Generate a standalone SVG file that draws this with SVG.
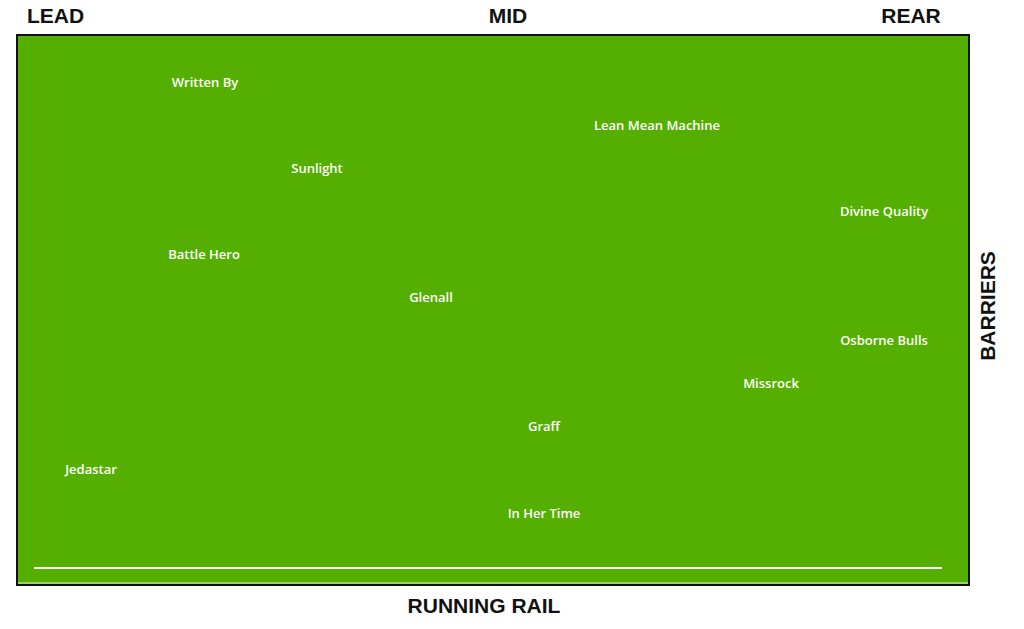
<svg xmlns="http://www.w3.org/2000/svg" width="1024" height="629" viewBox="0 0 1024 629">
<style>
.hdr{font-family:"Liberation Sans",Arial,sans-serif;font-weight:bold;font-size:21px;fill:#111}
.lbl{font-family:"Open Sans","Liberation Sans",sans-serif;font-weight:600;font-size:13px;fill:#fff;text-anchor:middle}
</style>
<rect width="1024" height="629" fill="#fff"/>
<g id="track">
<rect x="17" y="35" width="952" height="550" fill="#55af00" stroke="#111" stroke-width="2"/>
<line x1="34" y1="568" x2="942" y2="568" stroke="#fff" stroke-width="2"/>
<line x1="18" y1="583" x2="968" y2="583" stroke="#e8f5d0" stroke-width="1"/>
</g>
<g id="headers">
<text class="hdr" x="27" y="23">LEAD</text>
<text class="hdr" x="508" y="23" text-anchor="middle">MID</text>
<text class="hdr" x="911" y="23" text-anchor="middle">REAR</text>
<text class="hdr" x="484" y="613" text-anchor="middle" font-size="22.5">RUNNING RAIL</text>
<text class="hdr" x="0" y="0" text-anchor="middle" font-size="20" transform="translate(995 306) rotate(-90)">BARRIERS</text>
</g>
<g id="n-written-by"><text class="lbl" x="205" y="87">Written By</text></g>
<g id="n-lean-mean-machine"><text class="lbl" x="657" y="130">Lean Mean Machine</text></g>
<g id="n-sunlight"><text class="lbl" x="317" y="173">Sunlight</text></g>
<g id="n-divine-quality"><text class="lbl" x="884" y="216">Divine Quality</text></g>
<g id="n-battle-hero"><text class="lbl" x="204" y="259">Battle Hero</text></g>
<g id="n-glenall"><text class="lbl" x="431" y="302">Glenall</text></g>
<g id="n-osborne-bulls"><text class="lbl" x="884" y="345">Osborne Bulls</text></g>
<g id="n-missrock"><text class="lbl" x="771" y="388">Missrock</text></g>
<g id="n-graff"><text class="lbl" x="544" y="431">Graff</text></g>
<g id="n-jedastar"><text class="lbl" x="91" y="474">Jedastar</text></g>
<g id="n-in-her-time"><text class="lbl" x="544" y="518">In Her Time</text></g>
<g id="connectors"></g>
</svg>
